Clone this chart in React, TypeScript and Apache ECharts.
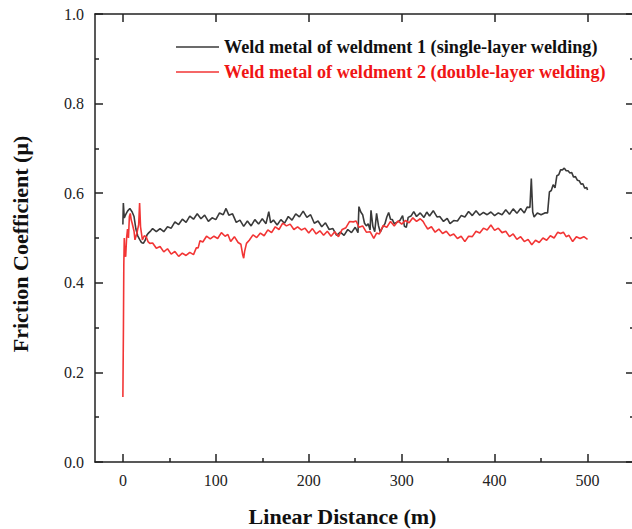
import React, { useEffect, useRef } from "react";
import * as echarts from "echarts";

const NAME1 = "Weld metal of weldment 1 (single-layer welding)";
const NAME2 = "Weld metal of weldment 2 (double-layer welding)";

const xTickValues = [0, 100, 200, 300, 400, 500];
const xMinorValues = [50, 150, 250, 350, 450];

// [linear distance (m), friction coefficient]
const weldment1: [number, number][] = [
  [0, 0.53], [0.5, 0.578], [1.5, 0.545], [3, 0.552], [5, 0.56], [7.5, 0.566], [10, 0.558], [12, 0.548],
  [14, 0.52], [16, 0.505], [18, 0.497], [20, 0.49], [22, 0.488], [24, 0.495], [26, 0.507], [28, 0.512],
  [30, 0.516], [32, 0.521], [36, 0.514], [40, 0.521], [44, 0.514], [48, 0.525], [52, 0.522], [56, 0.536],
  [60, 0.53], [64, 0.542], [68, 0.535], [72, 0.549], [76, 0.542], [80, 0.554], [84, 0.543], [88, 0.551],
  [92, 0.537], [96, 0.545], [100, 0.541], [104, 0.556], [108, 0.552], [111, 0.566], [114, 0.551], [118, 0.554],
  [122, 0.535], [126, 0.54], [130, 0.526], [134, 0.538], [138, 0.527], [142, 0.541], [146, 0.531], [150, 0.543],
  [154, 0.532], [157, 0.559], [159, 0.534], [162, 0.54], [166, 0.529], [170, 0.541], [174, 0.533], [178, 0.548],
  [182, 0.54], [186, 0.554], [190, 0.547], [194, 0.56], [198, 0.546], [202, 0.552], [206, 0.533], [210, 0.538],
  [214, 0.525], [218, 0.534], [222, 0.519], [226, 0.521], [230, 0.506], [234, 0.513], [238, 0.506], [242, 0.519],
  [246, 0.512], [250, 0.524], [253, 0.512], [254, 0.57], [256, 0.558], [258, 0.552], [260, 0.533], [262, 0.527],
  [264, 0.532], [266, 0.518], [267, 0.562], [269, 0.526], [271, 0.514], [273, 0.555], [275, 0.528], [277, 0.513],
  [279, 0.522], [282, 0.532], [284, 0.547], [286, 0.557], [288, 0.542], [290, 0.541], [292, 0.532], [295, 0.535],
  [298, 0.539], [301, 0.55], [303, 0.526], [305, 0.524], [307, 0.546], [310, 0.549], [313, 0.559], [316, 0.548],
  [320, 0.556], [324, 0.546], [327, 0.558], [330, 0.549], [334, 0.561], [338, 0.547], [341, 0.548], [345, 0.537],
  [349, 0.544], [352, 0.532], [356, 0.539], [360, 0.538], [364, 0.55], [368, 0.547], [372, 0.559], [376, 0.55],
  [380, 0.561], [384, 0.551], [388, 0.557], [392, 0.552], [396, 0.558], [400, 0.55], [404, 0.556], [408, 0.552],
  [412, 0.563], [416, 0.553], [420, 0.565], [424, 0.555], [428, 0.566], [432, 0.556], [435, 0.569], [438, 0.568],
  [439.5, 0.633], [441, 0.558], [442.5, 0.547], [446, 0.556], [450, 0.552], [454, 0.556], [457, 0.556], [459, 0.603],
  [461, 0.606], [463, 0.619], [465, 0.612], [467, 0.639], [469, 0.641], [471, 0.652], [473, 0.652], [475, 0.656],
  [477, 0.65], [479, 0.65], [481, 0.645], [483, 0.646], [485, 0.636], [487, 0.637], [489, 0.629], [491, 0.628],
  [493, 0.62], [495, 0.621], [497, 0.611], [499, 0.613], [500, 0.607],
];

const weldment2: [number, number][] = [
  [0, 0.145], [0.6, 0.3], [1, 0.44], [1.5, 0.5], [2, 0.47], [3, 0.458], [4, 0.5], [5, 0.52],
  [6, 0.5], [7, 0.548], [8, 0.555], [9, 0.54], [10, 0.533], [12, 0.515], [13, 0.496], [15, 0.51],
  [17, 0.53], [18, 0.578], [19, 0.525], [21, 0.496], [23, 0.505], [25, 0.503], [27, 0.492], [29, 0.488],
  [32, 0.489], [36, 0.477], [40, 0.481], [44, 0.469], [48, 0.476], [52, 0.464], [56, 0.47], [60, 0.459],
  [64, 0.466], [68, 0.461], [72, 0.468], [76, 0.463], [79, 0.478], [81, 0.478], [83, 0.494], [86, 0.491],
  [90, 0.504], [94, 0.498], [98, 0.504], [102, 0.499], [106, 0.512], [110, 0.504], [113, 0.508], [116, 0.492],
  [120, 0.503], [124, 0.49], [127, 0.486], [129, 0.462], [130, 0.455], [131, 0.47], [133, 0.488], [136, 0.495],
  [140, 0.507], [144, 0.501], [148, 0.511], [152, 0.505], [156, 0.518], [160, 0.512], [164, 0.525], [168, 0.519],
  [172, 0.533], [176, 0.527], [180, 0.531], [184, 0.519], [188, 0.525], [192, 0.518], [196, 0.522], [200, 0.511],
  [204, 0.521], [208, 0.509], [212, 0.516], [216, 0.506], [220, 0.515], [224, 0.504], [228, 0.514], [232, 0.503],
  [236, 0.519], [240, 0.523], [244, 0.537], [248, 0.536], [251, 0.538], [254, 0.524], [258, 0.527], [262, 0.513],
  [266, 0.514], [270, 0.499], [273, 0.511], [276, 0.509], [280, 0.528], [284, 0.524], [288, 0.537], [292, 0.527],
  [296, 0.538], [300, 0.531], [304, 0.539], [308, 0.534], [312, 0.545], [316, 0.537], [320, 0.543], [323, 0.537],
  [325, 0.53], [328, 0.52], [332, 0.525], [336, 0.513], [340, 0.52], [344, 0.51], [348, 0.515], [352, 0.505],
  [356, 0.509], [360, 0.499], [364, 0.504], [368, 0.492], [372, 0.504], [376, 0.503], [380, 0.515], [384, 0.511],
  [388, 0.522], [392, 0.518], [396, 0.529], [400, 0.517], [404, 0.522], [408, 0.512], [412, 0.515], [416, 0.503],
  [420, 0.509], [424, 0.497], [428, 0.503], [432, 0.492], [436, 0.497], [440, 0.485], [444, 0.495], [448, 0.49],
  [452, 0.5], [456, 0.495], [460, 0.505], [464, 0.5], [468, 0.513], [471, 0.51], [474, 0.513], [477, 0.503],
  [480, 0.506], [484, 0.492], [488, 0.503], [492, 0.499], [496, 0.503], [500, 0.497],
];

const FONT = "'Liberation Serif', 'Times New Roman', serif";

export default function App() {
  const ref = useRef<HTMLDivElement>(null);
  useEffect(() => {
    if (!ref.current) return;
    const chart = echarts.init(ref.current, undefined, { renderer: "svg" });
    const axisColor = "#222222";
    const lineStyle = { color: axisColor, width: 1.5 };
    chart.setOption({
      animation: false,
      backgroundColor: "#ffffff",
      textStyle: { fontFamily: FONT },
      grid: { left: 95, top: 14, right: -2, bottom: 67, outerBoundsMode: "none" },
      legend: {
        orient: "vertical",
        left: 171,
        top: 33,
        icon: "rect",
        itemWidth: 43,
        itemHeight: 1.6,
        itemGap: 7,
        textStyle: { fontFamily: FONT, fontWeight: "bold", fontSize: 18.2 },
        data: [
          { name: NAME1, textStyle: { color: "#111111" } },
          { name: NAME2, textStyle: { color: "#f01515" } },
        ],
      },
      xAxis: [
        {
          type: "value",
          min: -30,
          max: 550,
          position: "bottom",
          splitLine: { show: false },
          axisLine: { show: true, onZero: false, lineStyle },
          axisTick: { show: true, inside: true, length: 8, lineStyle, customValues: xTickValues },
          axisLabel: {
            customValues: xTickValues,
            fontFamily: FONT,
            fontSize: 16,
            color: axisColor,
            margin: 10,
          },
          name: "Linear Distance (m)",
          nameLocation: "middle",
          nameGap: 43,
          nameMoveOverlap: false,
          nameTextStyle: {
            fontFamily: FONT,
            fontWeight: "bold",
            fontSize: 22,
            color: "#111111",
            padding: [0, 44, 0, 0],
          },
        },
        {
          type: "value",
          min: -30,
          max: 550,
          position: "bottom",
          splitLine: { show: false },
          axisLine: { show: false, onZero: false },
          axisTick: { show: true, inside: true, length: 4, lineStyle, customValues: xMinorValues },
          axisLabel: { show: false },
        },
        {
          type: "value",
          min: -30,
          max: 550,
          position: "top",
          splitLine: { show: false },
          axisLine: { show: true, onZero: false, lineStyle },
          axisTick: { show: true, inside: true, length: 8, lineStyle, customValues: xTickValues },
          axisLabel: { show: false },
        },
      ],
      yAxis: [
        {
          type: "value",
          min: 0,
          max: 1,
          interval: 0.2,
          position: "left",
          splitLine: { show: false },
          axisLine: { show: true, onZero: false, lineStyle },
          axisTick: { show: true, inside: true, length: 8, lineStyle },
          minorTick: { show: true, splitNumber: 2, length: 4, lineStyle },
          axisLabel: {
            formatter: (v: number) => v.toFixed(1),
            fontFamily: FONT,
            fontSize: 16,
            color: axisColor,
            margin: 11,
          },
          name: "Friction Coefficient (μ)",
          nameLocation: "middle",
          nameGap: 64,
          nameMoveOverlap: false,
          nameTextStyle: {
            fontFamily: FONT,
            fontWeight: "bold",
            fontSize: 22,
            color: "#111111",
            padding: [0, 12, 0, 0],
          },
        },
        {
          type: "value",
          min: 0,
          max: 1,
          interval: 0.2,
          position: "right",
          splitLine: { show: false },
          axisLine: { show: true, onZero: false, lineStyle },
          axisTick: { show: true, inside: true, length: 8, lineStyle },
          minorTick: { show: true, splitNumber: 2, length: 4, lineStyle },
          axisLabel: { show: false },
        },
      ],
      series: [
        {
          name: NAME1,
          type: "line",
          xAxisIndex: 0,
          yAxisIndex: 0,
          data: weldment1,
          symbol: "none",
          showSymbol: false,
          lineStyle: { color: "#3a3a3a", width: 1.6 },
          itemStyle: { color: "#3a3a3a" },
          z: 2,
        },
        {
          name: NAME2,
          type: "line",
          xAxisIndex: 0,
          yAxisIndex: 0,
          data: weldment2,
          symbol: "none",
          showSymbol: false,
          lineStyle: { color: "#f23535", width: 1.6 },
          itemStyle: { color: "#f23535" },
          z: 3,
        },
      ],
    });
    return () => chart.dispose();
  }, []);
  return (
    <div
      ref={ref}
      style={{ position: "absolute", left: 0, top: 0, width: 632, height: 529 }}
    />
  );
}
